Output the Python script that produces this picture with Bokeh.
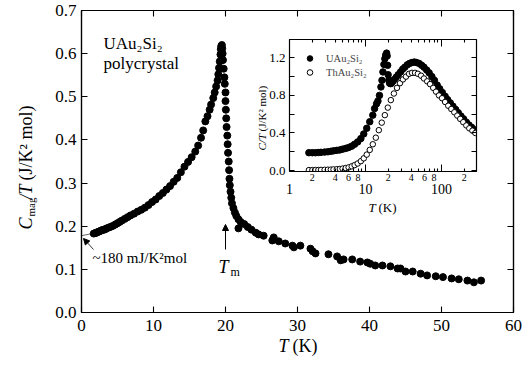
import math
from bokeh.plotting import figure
from bokeh.models import (Range1d, LinearAxis, LogAxis, FixedTicker, Label, Arrow,
                          NormalHead, LegendItem, Legend, PrintfTickFormatter,
                          CustomLabelingPolicy)
from bokeh.embed import file_html
from bokeh.resources import INLINE

FONT = "Liberation Serif"
W, H = 522, 364

# ---------------- main data: C_mag/T vs T ----------------
main_T = [1.7, 1.9, 2.1, 2.3, 2.5, 2.7, 2.9, 3.1, 3.3, 3.5, 3.8, 4.1, 4.4, 4.7, 5.0, 5.3,
          5.6, 6.0, 6.4, 6.8, 7.3, 7.8, 8.3, 8.8, 9.3, 9.8, 10.3, 10.8, 11.3, 11.8, 12.3,
          12.8, 13.3, 13.8, 14.3, 14.8, 15.3, 15.8, 16.2, 16.6, 16.9, 17.2, 17.5, 17.8,
          18.0, 18.3, 18.5, 18.7, 18.9, 19.0, 19.1, 19.2, 19.3, 19.35, 19.4, 19.5, 19.55,
          19.6, 19.65, 19.75, 19.85, 19.9, 20.0, 20.0, 20.05, 20.1, 20.15, 20.25, 20.3,
          20.35, 20.45, 20.5, 20.55, 20.6, 20.7, 20.8, 20.9, 21.1, 21.3, 21.5, 21.8, 22.1,
          21.8, 22.6, 23.1, 23.6, 24.2, 24.6, 25.3, 26.5, 26.7, 27.4, 28.3, 29.3, 29.5,
          30.4, 31.8, 32.1, 32.5, 34.3, 35.5, 36.0, 36.4, 37.6, 38.7, 39.7, 40.1, 40.8,
          41.8, 42.9, 43.9, 44.3, 45.0, 46.0, 47.1, 48.0, 49.2, 50.2, 51.4, 52.4, 53.6,
          54.5, 55.5]
main_C = [0.183, 0.184, 0.185, 0.187, 0.188, 0.190, 0.191, 0.192, 0.193, 0.195, 0.197,
          0.199, 0.201, 0.204, 0.207, 0.210, 0.213, 0.217, 0.221, 0.225, 0.229, 0.234,
          0.238, 0.243, 0.249, 0.256, 0.262, 0.270, 0.277, 0.285, 0.293, 0.303, 0.312,
          0.325, 0.338, 0.349, 0.360, 0.373, 0.387, 0.405, 0.422, 0.443, 0.455, 0.470,
          0.482, 0.497, 0.510, 0.524, 0.538, 0.552, 0.567, 0.582, 0.598, 0.610, 0.617,
          0.620, 0.612, 0.600, 0.585, 0.565, 0.545, 0.530, 0.510, 0.490, 0.470, 0.450,
          0.430, 0.410, 0.390, 0.370, 0.350, 0.330, 0.310, 0.295, 0.280, 0.266, 0.253,
          0.242, 0.232, 0.224, 0.216, 0.210, 0.195, 0.205, 0.198, 0.192, 0.185, 0.181,
          0.178, 0.167, 0.174, 0.165, 0.160, 0.155, 0.151, 0.155, 0.148, 0.142, 0.137,
          0.135, 0.130, 0.121, 0.123, 0.123, 0.118, 0.116, 0.113, 0.109, 0.109, 0.107,
          0.102, 0.102, 0.095, 0.095, 0.090, 0.086, 0.084, 0.082, 0.079, 0.077, 0.074,
          0.070, 0.074]
main_xticks = [0, 10, 20, 30, 40, 50, 60]
main_yticks = [0.0, 0.1, 0.2, 0.3, 0.4, 0.5, 0.6, 0.7]

# ---------------- inset data: C/T vs T (log) ----------------
u_T = [1.8, 2.0, 2.2, 2.4, 2.6, 2.9, 3.2, 3.5, 3.8, 4.2, 4.6, 5.0, 5.5, 6.0, 6.6, 7.2,
       7.9, 8.7, 9.5, 10.4, 11.4, 12.5, 13.2, 14.0, 14.6, 15.3, 16.0, 16.5, 17.0, 17.5,
       18.0, 18.5, 19.0, 19.3, 19.6, 19.9, 20.3, 20.8, 21.4, 22, 23, 24, 25.5, 27, 29,
       31, 33, 35.5, 38, 41, 44, 47, 51, 55, 59, 64, 69, 75, 81, 88, 95, 103, 112, 121,
       131, 142, 154, 167, 181, 196, 213, 231, 250, 271, 290]
u_C = [0.19, 0.19, 0.19, 0.192, 0.194, 0.197, 0.20, 0.205, 0.21, 0.215, 0.22, 0.228,
       0.236, 0.245, 0.26, 0.28, 0.305, 0.34, 0.39, 0.45, 0.52, 0.59, 0.66, 0.71, 0.74,
       0.80, 0.89, 0.96, 1.05, 1.13, 1.19, 1.23, 1.25, 1.22, 1.12, 1.02, 0.96, 0.93,
       0.925, 0.93, 0.95, 0.97, 0.995, 1.02, 1.05, 1.08, 1.10, 1.125, 1.14, 1.15, 1.155,
       1.15, 1.14, 1.12, 1.10, 1.07, 1.04, 1.00, 0.96, 0.91, 0.87, 0.83, 0.79, 0.755,
       0.72, 0.685, 0.65, 0.615, 0.58, 0.55, 0.515, 0.485, 0.46, 0.435, 0.415]
th_T = [1.8, 2.0, 2.2, 2.4, 2.6, 2.9, 3.2, 3.5, 3.8, 4.2, 4.6, 5.0, 5.5, 6.0, 6.6, 7.2,
        7.9, 8.7, 9.5, 10.4, 11.4, 12.5, 13.7, 15.0, 16.4, 18.0, 19.7, 21.6, 23.7, 26,
        28.5, 31.2, 34.2, 37.5, 41, 45, 49, 54, 59, 65, 71, 78, 85, 93, 102, 112, 123,
        135, 148, 162, 177, 194, 213, 233, 256, 280]
th_C = [0.005, 0.005, 0.006, 0.006, 0.007, 0.008, 0.009, 0.010, 0.012, 0.014, 0.017,
        0.021, 0.027, 0.034, 0.045, 0.058, 0.075, 0.10, 0.13, 0.17, 0.22, 0.28, 0.35,
        0.43, 0.51, 0.59, 0.67, 0.75, 0.82, 0.88, 0.93, 0.97, 1.00, 1.03, 1.04, 1.04,
        1.03, 1.01, 0.98, 0.95, 0.92, 0.88, 0.84, 0.80, 0.77, 0.73, 0.69, 0.655, 0.62,
        0.585, 0.55, 0.515, 0.48, 0.45, 0.425, 0.40]
inset_yticks = [0.0, 0.2, 0.4, 0.6, 0.8, 1.0, 1.2, 1.4]
inset_minor = [2, 3, 4, 5, 6, 7, 8, 9, 20, 30, 40, 50, 60, 70, 80, 90, 200]
inset_minor_labels = {2: "2", 3: "3", 4: "4", 5: "5", 6: "6", 7: "7", 8: "8", 9: "9",
                      20: "2", 30: "3", 40: "4", 50: "5", 60: "6", 70: "7", 80: "8",
                      90: "9", 200: "2"}
inset_decades = [1, 10, 100]
inset_decade_labels = {1: "1", 10: "10", 100: "100"}

EVEN_LABELS = """
const r = new Set()
for (const i of indices) { if (i % 2 == 0) r.add(i) }
return r
"""


def style(ax, size, tick_in=6, labels=True):
    ax.axis_line_color = "black"
    ax.axis_line_width = 1.2
    ax.major_tick_line_color = "black"
    ax.major_tick_line_width = 1.1
    ax.major_tick_in = tick_in
    ax.major_tick_out = 0
    ax.minor_tick_line_color = None
    ax.major_label_text_font = FONT
    ax.major_label_text_color = "black"
    ax.major_label_text_font_size = size
    if not labels:
        # mirror axis: ticks only, no labels and no space reserved for them
        ax.major_label_policy = CustomLabelingPolicy(code="return new Set()")
        ax.major_label_text_font_size = "0px"
        ax.major_label_standoff = 0


# ---------------- main figure ----------------
p = figure(width=W, height=H, x_range=Range1d(0, 60), y_range=Range1d(0, 0.7),
           x_axis_location=None, y_axis_location=None,
           output_backend="svg", toolbar_location=None,
           min_border_left=81, min_border_right=9, min_border_top=10, min_border_bottom=52)
p.grid.visible = False
p.outline_line_color = "black"
p.outline_line_width = 1.2

xb = LinearAxis(ticker=FixedTicker(ticks=main_xticks))
style(xb, "17px")
xb.major_label_standoff = 7
p.add_layout(xb, "below")
xt = LinearAxis(ticker=FixedTicker(ticks=main_xticks))
style(xt, "17px", labels=False)
p.add_layout(xt, "above")
yl = LinearAxis(ticker=FixedTicker(ticks=main_yticks), formatter=PrintfTickFormatter(format="%.1f"))
style(yl, "17px")
yl.major_label_standoff = 5
p.add_layout(yl, "left")
yr = LinearAxis(ticker=FixedTicker(ticks=main_yticks))
style(yr, "17px", labels=False)
p.add_layout(yr, "right")

p.scatter(main_T, main_C, size=7, color="black")

p.line([0, 1.8], [0.178, 0.184], line_color="black", line_width=0.6)
p.add_layout(Arrow(x_start=1.67, y_start=0.146, x_end=0.28, y_end=0.1715, line_width=0.8,
                   end=NormalHead(size=6, fill_color="black", line_color="black")))
p.add_layout(Arrow(x_start=20, y_start=0.146, x_end=20, y_end=0.204, line_width=1,
                   end=NormalHead(size=6, fill_color="black", line_color="black")))

# ---------------- inset figure ----------------
q = figure(width=227, height=183, x_axis_type="log", x_range=Range1d(1, 290),
           y_range=Range1d(-0.01, 1.395), x_axis_location=None, y_axis_location=None,
           output_backend="svg", toolbar_location=None,
           min_border_left=34, min_border_right=6, min_border_top=7, min_border_bottom=44)
q.grid.visible = False
q.outline_line_color = "black"
q.outline_line_width = 1.0
q.border_fill_color = None
q.background_fill_color = "white"

qb = LogAxis(ticker=FixedTicker(ticks=inset_minor, minor_ticks=[10, 100]),
             major_label_overrides=inset_minor_labels)
style(qb, "10px", tick_in=3)
qb.major_label_policy = CustomLabelingPolicy(code=EVEN_LABELS)
qb.minor_tick_line_color = "black"
qb.minor_tick_in = 7
qb.minor_tick_out = 0
qb.major_label_standoff = 2
q.add_layout(qb, "below")
qb2 = LogAxis(ticker=FixedTicker(ticks=inset_decades), major_label_overrides=inset_decade_labels)
style(qb2, "14px")
qb2.axis_line_color = None
qb2.major_tick_line_color = None
qb2.major_label_standoff = 0
q.add_layout(qb2, "below")
qt = LogAxis(ticker=FixedTicker(ticks=inset_minor, minor_ticks=[10, 100]))
style(qt, "10px", tick_in=3, labels=False)
qt.minor_tick_line_color = "black"
qt.minor_tick_in = 7
qt.minor_tick_out = 0
q.add_layout(qt, "above")
ql = LinearAxis(ticker=FixedTicker(ticks=inset_yticks), formatter=PrintfTickFormatter(format="%.1f"))
style(ql, "13px", tick_in=5)
ql.major_label_policy = CustomLabelingPolicy(code=EVEN_LABELS)
ql.major_label_standoff = 4
q.add_layout(ql, "left")
qr = LinearAxis(ticker=FixedTicker(ticks=inset_yticks))
style(qr, "13px", tick_in=5, labels=False)
q.add_layout(qr, "right")

su = q.scatter(u_T, u_C, size=6.5, color="black")
sth = q.scatter(th_T, th_C, size=5.5, fill_color="white", line_color="black", line_width=1)
lu = q.line(x=[], y=[], line_color="black", line_width=1)
lth = q.line(x=[], y=[], line_color="black", line_width=1)
leg = Legend(items=[LegendItem(label="UAu₂Si₂", renderers=[lu, su]),
                    LegendItem(label="ThAu₂Si₂", renderers=[lth, sth])],
             location=(8, 92), glyph_width=25, glyph_height=14, label_height=14,
             label_standoff=4, spacing=0, padding=0, margin=0,
             label_text_font=FONT, label_text_font_size="10.5px",
             border_line_color=None, background_fill_alpha=0)
q.add_layout(leg, "center")
q.styles = {"position": "absolute", "left": "255px", "top": "32px"}

# ---------------- text overlay (page-pixel positions for titles and axis titles) ----------------
ov = figure(width=W, height=H, x_range=Range1d(0, W), y_range=Range1d(H, 0),
            x_axis_location=None, y_axis_location=None, output_backend="svg",
            toolbar_location=None, min_border=0)
ov.grid.visible = False
ov.outline_line_color = None
ov.background_fill_color = None
ov.border_fill_color = None
ov.styles = {"position": "absolute", "left": "0px", "top": "0px", "pointer-events": "none"}


def lab(x, y, text, size, style="normal", angle=0.0):
    ov.add_layout(Label(x=x, y=y, text=text, text_font=FONT, text_font_size=size,
                        text_font_style=style, text_color="black", angle=angle,
                        text_align="left", text_baseline="middle"))


r = math.pi / 2
lab(103, 43, "UAu₂Si₂", "17px")
lab(103, 63, "polycrystal", "17px")
lab(92, 257, "~180 mJ/K²mol", "15px")
lab(218, 266, "T", "18px", "italic")
lab(230, 271, "m", "12px")
lab(278, 345, "T", "18px", "italic")
lab(292, 345, "(K)", "18px")
lab(25, 229, "C", "18px", "italic", r)
lab(30, 216, "mag", "11px", "normal", r)
lab(25, 199, "/T", "18px", "italic", r)
lab(25, 180, "(J/K² mol)", "18px", "normal", r)
lab(368, 207, "T", "13px", "italic")
lab(378, 207, "(K)", "13px")
lab(261, 150, "C/T", "11px", "italic", r)
lab(261, 131, "(J/K² mol)", "11px", "normal", r)

with open("out.html", "w") as f:
    f.write(file_html([p, q, ov], INLINE))
